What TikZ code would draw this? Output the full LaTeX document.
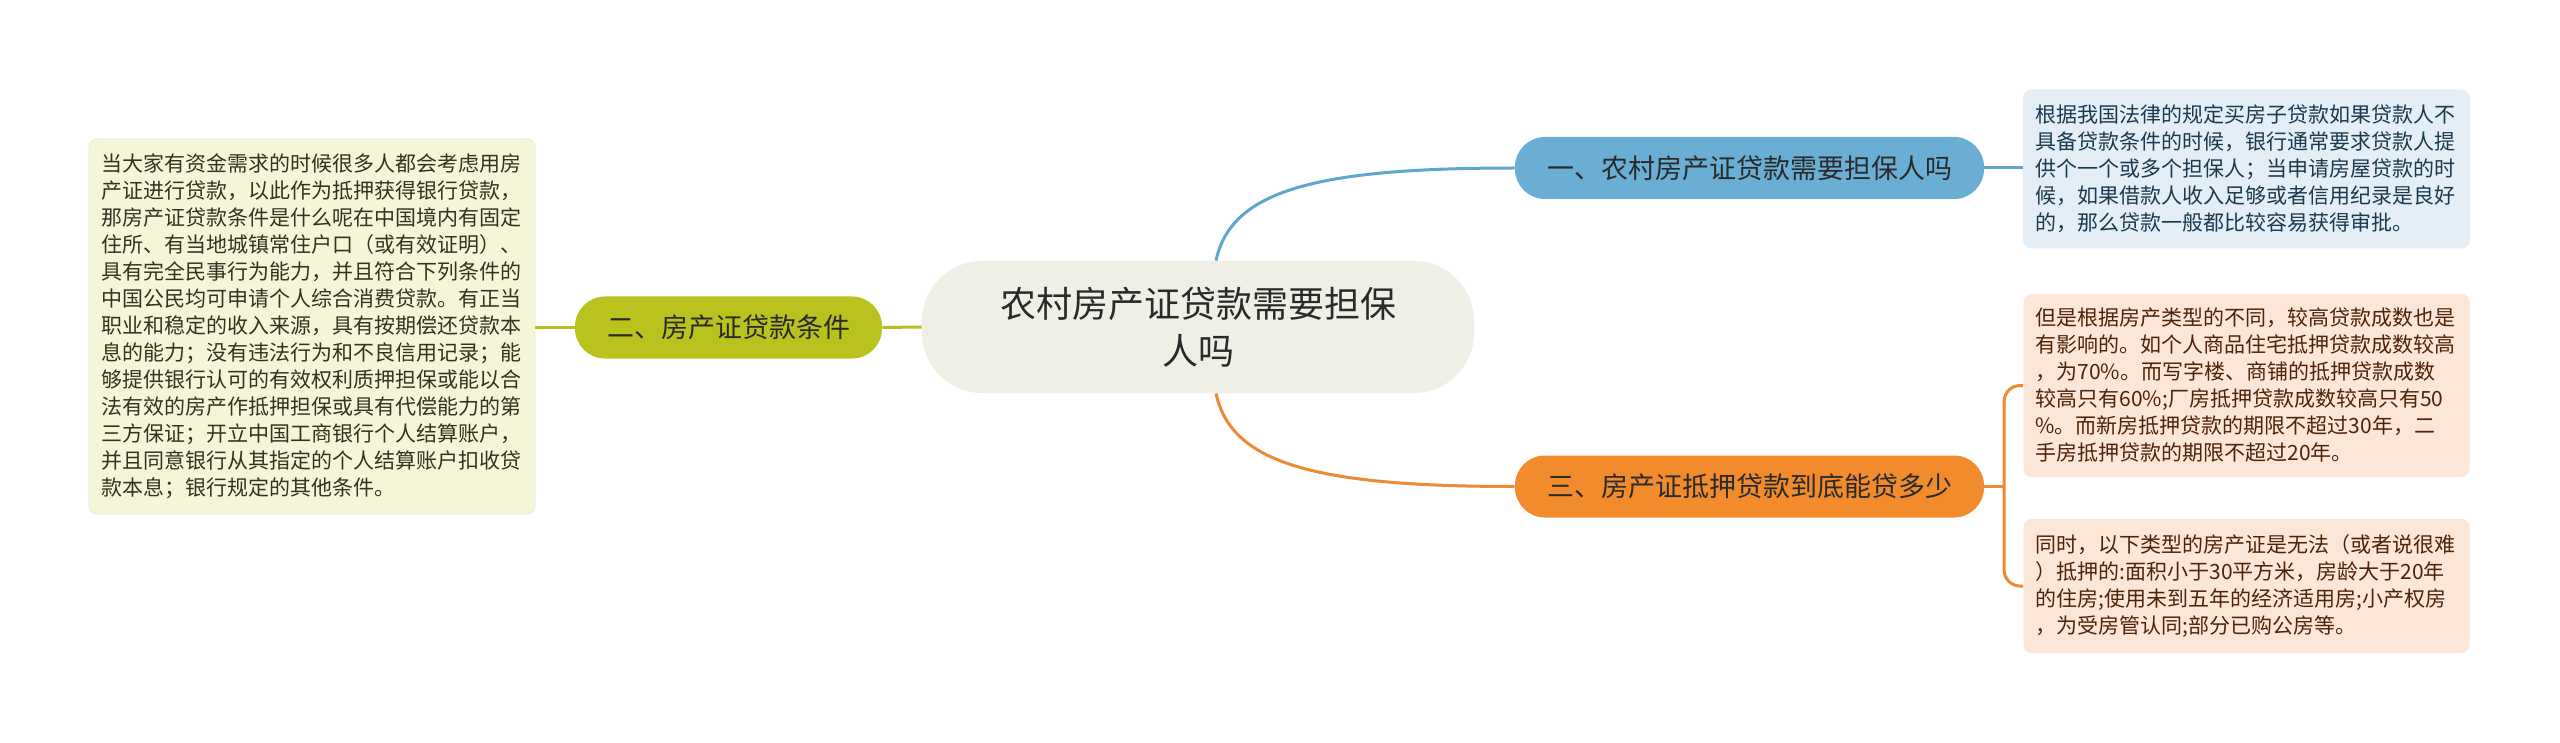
\documentclass[tikz,border=0pt]{standalone}
\usepackage{fontspec}
\setmainfont{Noto Sans CJK SC}
\usepackage{tikz}
\usetikzlibrary{positioning,calc}
\usepackage{xcolor}
\definecolor{rootfill}{HTML}{EFEFE6}
\definecolor{bluefill}{HTML}{6AAED3}
\definecolor{blueline}{HTML}{5FA6CD}
\definecolor{bluebox}{HTML}{E3EEF6}
\definecolor{bluetext}{HTML}{1C3A4E}
\definecolor{orangefill}{HTML}{F28B2C}
\definecolor{orangeline}{HTML}{EE8934}
\definecolor{orangebox}{HTML}{FCE6D8}
\definecolor{orangetext}{HTML}{4E2408}
\definecolor{greenfill}{HTML}{BAC21E}
\definecolor{greenline}{HTML}{B6BE22}
\definecolor{greenbox}{HTML}{F5F6D8}
\definecolor{greentext}{HTML}{33331F}
\definecolor{textdark}{HTML}{2A2A2A}

\begin{document}
\begin{tikzpicture}[x=0.5pt, y=-0.5pt,
  root/.style={fill=rootfill, rounded corners=30pt, minimum width=276pt, minimum height=66pt,
    align=center, text=textdark, font=\fontsize{18pt}{23.5pt}\selectfont},
  branch/.style={rounded corners=15pt, minimum height=31pt, inner xsep=0pt,
    text=textdark, font=\fontsize{13.5pt}{16pt}\selectfont},
  leaf/.style={rounded corners=4pt, minimum width=222.5pt, text width=211pt, align=left,
    inner xsep=6pt, font=\fontsize{10.5pt}{13.5pt}\selectfont},
  link/.style={line width=1.5pt}]
  \useasboundingbox[fill=white] (0,0) rectangle (2560,743);
  % centre
  \node[root] (root) at (1198,327) {农村房产证贷款需要担保\\人吗};
  % branches
  \node[branch, fill=bluefill, minimum width=234.5pt] (b1) at (1749.5,168) {一、农村房产证贷款需要担保人吗};
  \node[branch, fill=greenfill, minimum width=153.5pt] (b2) at (728.5,327.5) {二、房产证贷款条件};
  \node[branch, fill=orangefill, minimum width=234.5pt] (b3) at (1749.5,486.5) {三、房产证抵押贷款到底能贷多少};
  % leaves
  \node[leaf, fill=greenbox, draw=greenbox!80!black!40, text=greentext, minimum height=187.5pt] (l2) at (312,326.5)
    {当大家有资金需求的时候很多人都会考虑用房\\
     产证进行贷款，以此作为抵押获得银行贷款，\\
     那房产证贷款条件是什么呢在中国境内有固定\\
     住所、有当地城镇常住户口（或有效证明）、\\
     具有完全民事行为能力，并且符合下列条件的\\
     中国公民均可申请个人综合消费贷款。有正当\\
     职业和稳定的收入来源，具有按期偿还贷款本\\
     息的能力；没有违法行为和不良信用记录；能\\
     够提供银行认可的有效权利质押担保或能以合\\
     法有效的房产作抵押担保或具有代偿能力的第\\
     三方保证；开立中国工商银行个人结算账户，\\
     并且同意银行从其指定的个人结算账户扣收贷\\
     款本息；银行规定的其他条件。};
  \node[leaf, fill=bluebox, draw=bluebox!80!black!30, text=bluetext, minimum height=79pt] (l1) at (2246.5,169)
    {根据我国法律的规定买房子贷款如果贷款人不\\
     具备贷款条件的时候，银行通常要求贷款人提\\
     供个一个或多个担保人；当申请房屋贷款的时\\
     候，如果借款人收入足够或者信用纪录是良好\\
     的，那么贷款一般都比较容易获得审批。};
  \node[leaf, fill=orangebox, text=orangetext, minimum height=91.5pt] (l3) at (2246.5,385.5)
    {但是根据房产类型的不同，较高贷款成数也是\\
     有影响的。如个人商品住宅抵押贷款成数较高\\
     ，为70\%。而写字楼、商铺的抵押贷款成数\\
     较高只有60\%;厂房抵押贷款成数较高只有50\\
     \%。而新房抵押贷款的期限不超过30年，二\\
     手房抵押贷款的期限不超过20年。};
  \node[leaf, fill=orangebox, text=orangetext, minimum height=67pt] (l4) at (2246.5,586)
    {同时，以下类型的房产证是无法（或者说很难\\
     ）抵押的:面积小于30平方米，房龄大于20年\\
     的住房;使用未到五年的经济适用房;小产权房\\
     ，为受房管认同;部分已购公房等。};
  % connectors
  \draw[link, blueline] ([xshift=9pt]root.north) .. controls +(15,-70) and +(-200,0) .. (b1.west);
  \draw[link, orangeline] ([xshift=9pt]root.south) .. controls +(15,70) and +(-200,0) .. (b3.west);
  \draw[link, greenline] (root.west) -- (b2.east);
  \draw[link, greenline] (b2.west) -- (b2.west -| l2.east);
  \draw[link, blueline] (b1.east) -- (b1.east -| l1.west);
  \coordinate (brk) at ([xshift=-9.5pt]l3.west);
  \draw[link, orangeline] (b3.east) -- (b3.east -| brk);
  \draw[link, orangeline, rounded corners=8pt] (l3.west) -- (brk) |- (l4.west);
\end{tikzpicture}
\end{document}
